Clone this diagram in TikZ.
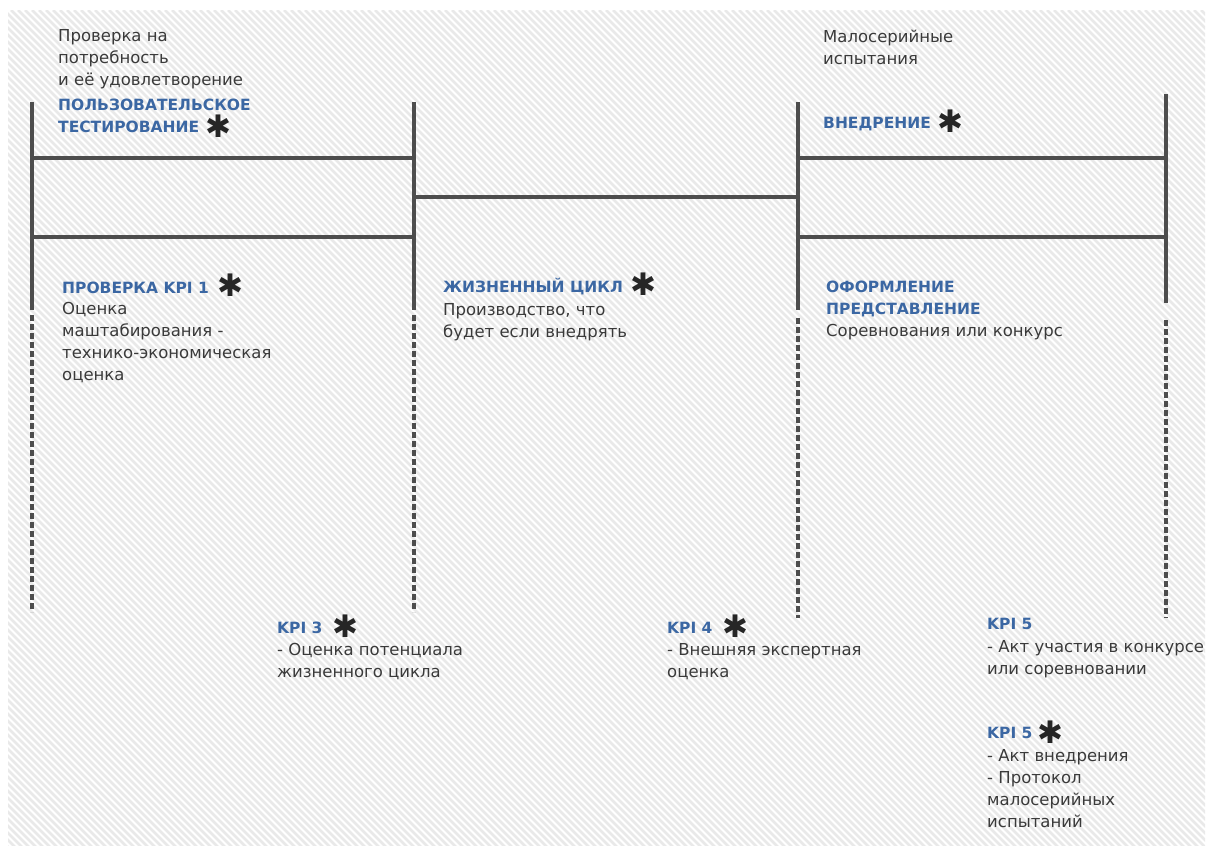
\documentclass[tikz,border=0pt]{standalone}
\usepackage{fontspec}
\setmainfont{DejaVu Sans}
\usetikzlibrary{positioning}
\definecolor{linegray}{HTML}{4D4D4D}
\definecolor{headblue}{HTML}{3B67A3}
\definecolor{textgray}{HTML}{3A3A3A}
\definecolor{hatchgray}{HTML}{E9E9E9}
\tikzset{
    bar/.style={
           draw=linegray,
           line width=4pt,
           },
    dashbar/.style={
           bar,
           dash pattern=on 6pt off 3pt,
           },
    % base west = baseline of the last line
    body/.style={
           anchor=base west,
           inner sep=0pt,
           align=left,
           text=textgray,
           font=\fontsize{16.5}{21.7}\selectfont,
           },
    head/.style={
           body,
           text=headblue,
           font=\fontsize{15.5}{22}\selectfont\bfseries,
           },
    star/.style={
           inner sep=0pt,
           text=black!85,
           font=\fontsize{31}{31}\selectfont,
           },
}

\begin{document}
\begin{tikzpicture}[x=1pt,y=-1pt]
  \useasboundingbox (0,0) rectangle (1208,849);

  % hatched paper behind everything
  \begin{scope}
    \clip (8,10) rectangle (1205,845);
    \foreach \k in {-850,-843,...,1210}
      \draw[hatchgray, line width=2.5pt] (\k,10) -- ++(840,840);
  \end{scope}

  % ends of the four uprights
  \coordinate (AT) at (32,102);   \coordinate (AS) at (32,310);
  \coordinate (AD) at (32,315);   \coordinate (AB) at (32,612);
  \coordinate (BT) at (414,102);  \coordinate (BS) at (414,310);
  \coordinate (BD) at (414,315);  \coordinate (BB) at (414,612);
  \coordinate (CT) at (798,102);  \coordinate (CS) at (798,310);
  \coordinate (CD) at (798,318);  \coordinate (CB) at (798,618);
  \coordinate (DT) at (1166,94);  \coordinate (DS) at (1166,303);
  \coordinate (DD) at (1166,320); \coordinate (DB) at (1166,618);

  % crossbars
  \coordinate (A1) at (32,158);  \coordinate (B1) at (414,158);
  \coordinate (A2) at (32,237);  \coordinate (B2) at (414,237);
  \coordinate (BM) at (414,197); \coordinate (CM) at (798,197);
  \coordinate (C1) at (798,158); \coordinate (D1) at (1166,158);
  \coordinate (C2) at (798,237); \coordinate (D2) at (1166,237);

  % solid and dashed uprights
  \draw[bar] (AT) -- (AS);  \draw[dashbar] (AD) -- (AB);
  \draw[bar] (BT) -- (BS);  \draw[dashbar] (BD) -- (BB);
  \draw[bar] (CT) -- (CS);  \draw[dashbar] (CD) -- (CB);
  \draw[bar] (DT) -- (DS);  \draw[dashbar] (DD) -- (DB);

  \draw[bar] (A1) -- (B1);
  \draw[bar] (A2) -- (B2);
  \draw[bar] (BM) -- (CM);
  \draw[bar] (C1) -- (D1);
  \draw[bar] (C2) -- (D2);

  % upper left block
  \node[body] (NEED) at (58,85) {Проверка на\\потребность\\и её удовлетворение};
  \node[head] (USERTEST) at (58,132) {ПОЛЬЗОВАТЕЛЬСКОЕ\\ТЕСТИРОВАНИЕ};
  \node[star] (USERSTAR) at (218,126) {✱};

  % upper right block
  \node[body] (BATCH) at (823,64) {Малосерийные\\испытания};
  \node[head] (IMPL) at (823,128) {ВНЕДРЕНИЕ};
  \node[star] (IMPLSTAR) at (950,121) {✱};

  % lower halves of the frames
  \node[head] (KPIONE) at (62,293) {ПРОВЕРКА KPI 1};
  \node[star] (KPIONESTAR) at (230,285) {✱};
  \node[body] (KPIONETXT) at (62,380)
   {Оценка\\маштабирования -\\технико-экономическая\\оценка};

  \node[head] (LIFE) at (443,292) {ЖИЗНЕННЫЙ ЦИКЛ};
  \node[star] (LIFESTAR) at (643,284) {✱};
  \node[body] (LIFETXT) at (443,337) {Производство, что\\будет если внедрять};

  \node[head] (DESIGN) at (826,314) {ОФОРМЛЕНИЕ\\ПРЕДСТАВЛЕНИЕ};
  \node[body] (DESIGNTXT) at (826,336) {Соревнования или конкурс};

  % KPI notes under the dashed ends
  \node[head] (KPITHREE) at (277,633) {KPI 3};
  \node[star] (KPITHREESTAR) at (345,626) {✱};
  \node[body] (KPITHREETXT) at (277,677) {- Оценка потенциала\\жизненного цикла};

  \node[head] (KPIFOUR) at (667,633) {KPI 4};
  \node[star] (KPIFOURSTAR) at (735,626) {✱};
  \node[body] (KPIFOURTXT) at (667,677) {- Внешняя экспертная\\оценка};

  \node[head] (KPIFIVE) at (987,629) {KPI 5};
  \node[body] (KPIFIVETXT) at (987,674) {- Акт участия в конкурсе\\или соревновании};

  \node[head] (KPIFIVEB) at (987,738) {KPI 5};
  \node[star] (KPIFIVEBSTAR) at (1050,732) {✱};
  \node[body] (KPIFIVEBTXT) at (987,827)
   {- Акт внедрения\\- Протокол\\малосерийных\\испытаний};

\end{tikzpicture}
\end{document}
